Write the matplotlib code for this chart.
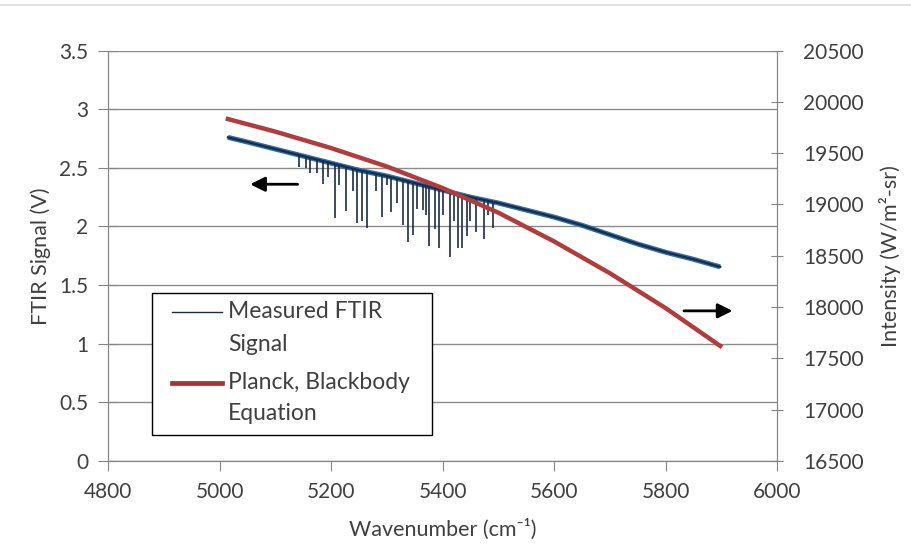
import numpy as np
import matplotlib
matplotlib.use("Agg")
import matplotlib.pyplot as plt
from matplotlib.lines import Line2D
from matplotlib.patches import Rectangle

plt.rcParams['font.family'] = ['Lato', 'DejaVu Sans']

# ===== FTIR signal (left axis) =====
# baseline read every ~50 cm-1
sig_wn = [5015, 5050, 5100, 5150, 5200, 5250, 5300, 5350, 5400, 5450,
          5500, 5550, 5600, 5650, 5700, 5750, 5800, 5850, 5898]
sig_v = [2.76, 2.72, 2.66, 2.60, 2.54, 2.48, 2.43, 2.37, 2.31, 2.25,
         2.20, 2.14, 2.08, 2.01, 1.93, 1.85, 1.78, 1.72, 1.655]

# absorption dips (position, bottom value)
dip_wn = [5143, 5155, 5162, 5175, 5186, 5195, 5207, 5215, 5227, 5240,
          5247, 5256, 5265, 5280, 5291, 5300, 5308, 5318, 5329, 5338,
          5347, 5355, 5365, 5370, 5376, 5387, 5394, 5400, 5413, 5420,
          5428, 5435, 5444, 5450, 5460, 5474, 5482, 5491]
dip_v = [2.51, 2.50, 2.46, 2.46, 2.36, 2.42, 2.07, 2.35, 2.13, 2.30,
         2.03, 2.05, 1.99, 2.30, 2.08, 2.35, 2.12, 2.20, 2.01, 1.87,
         1.93, 2.15, 2.14, 2.10, 1.83, 1.98, 1.82, 2.10, 1.74, 2.05,
         1.82, 1.82, 1.92, 2.05, 1.95, 1.89, 2.10, 1.99]

# ===== Planck curve (right axis) =====
planck_wn = [5015, 5100, 5200, 5300, 5400, 5500, 5600, 5700, 5800, 5898]
planck_i = [19833, 19710, 19550, 19370, 19160, 18920, 18640, 18330, 17990, 17621]

legend_labels = [['Measured FTIR', 'Signal'], ['Planck, Blackbody', 'Equation']]

TXT = '#404040'
SPINE = '#868686'
FS = 15
BLUE_DARK = '#1a2c48'
RED = '#b03c3c'

fig = plt.figure(figsize=(9.11, 5.56), dpi=100)
# thin light line along the top edge of the picture
fig.add_artist(Line2D([0, 1], [0.991, 0.991], transform=fig.transFigure,
                      color='#dcdcdc', lw=1.2))
ax1 = fig.add_axes([0.1186, 0.171, 0.7344, 0.738])
ax2 = ax1.twinx()

# measured signal
ax1.plot(sig_wn, sig_v, color='#2e6da8', lw=3.6, solid_capstyle='butt', zorder=3)
ax1.plot(sig_wn, sig_v, color=BLUE_DARK, lw=1.6, zorder=4)
dip_top = np.interp(dip_wn, sig_wn, sig_v)
ax1.vlines(dip_wn, dip_v, dip_top, color=BLUE_DARK, lw=1.2, zorder=4)

# planck
ax2.plot(planck_wn, planck_i, color=RED, lw=3.2, zorder=5)

ax1.set_xlim(4800, 6000)
ax1.set_ylim(0, 3.5)
ax2.set_ylim(16500, 20500)
ax1.set_xticks(np.arange(4800, 6001, 200))
ax1.set_yticks(np.arange(0, 3.51, 0.5))
ax1.set_yticklabels(['0', '0.5', '1', '1.5', '2', '2.5', '3', '3.5'])
ax2.set_yticks(np.arange(16500, 20501, 500))

ax1.yaxis.grid(True, color='#8c8c8c', lw=1.0)
ax1.set_axisbelow(True)

for ax in (ax1, ax2):
    ax.spines['top'].set_visible(False)
    for s in ('left', 'right', 'bottom'):
        ax.spines[s].set_color(SPINE)
ax1.tick_params(axis='y', direction='inout', length=14, color=SPINE,
                labelsize=FS, labelcolor=TXT, pad=7)
ax2.tick_params(axis='y', direction='inout', length=9, color=SPINE,
                labelsize=FS, labelcolor=TXT, pad=14)
ax1.tick_params(axis='x', direction='out', length=7, color=SPINE,
                labelsize=FS, labelcolor=TXT, pad=8)

ax1.set_xlabel('Wavenumber (cm\u207b\u00b9)', fontsize=15.5, color=TXT, labelpad=12)
ax1.set_ylabel('FTIR Signal (V)', fontsize=15.5, color=TXT, labelpad=6)
ax2.set_ylabel('Intensity (W/m\u00b2-sr)', fontsize=15.5, color=TXT, labelpad=11)

# direction arrows
ax1.annotate('', xy=(5050, 2.36), xytext=(5145, 2.36),
             arrowprops=dict(arrowstyle='-|>', color='black', lw=2.0,
                             mutation_scale=22))
ax1.annotate('', xy=(5925, 1.28), xytext=(5828, 1.28),
             arrowprops=dict(arrowstyle='-|>', color='black', lw=2.0,
                             mutation_scale=22))

# legend box, drawn by hand so the handles sit on the first text line
tr = ax1.transAxes
ax1.add_patch(Rectangle((0.066, 0.063), 0.418, 0.346, transform=tr,
                        facecolor='white', edgecolor='black', lw=1.0, zorder=10))
ax1.add_line(Line2D([0.096, 0.170], [0.363, 0.363], transform=tr,
                    color=BLUE_DARK, lw=1.0, zorder=11))
ax1.add_line(Line2D([0.096, 0.170], [0.190, 0.190], transform=tr,
                    color='#a83232', lw=3.4, zorder=11))
line_y = [[0.363, 0.283], [0.190, 0.115]]
for lab, ys in zip(legend_labels, line_y):
    for txt, y in zip(lab, ys):
        ax1.text(0.179, y, txt, transform=tr, fontsize=16.5, color=TXT,
                 va='center', ha='left', zorder=12)

plt.savefig('out.png', dpi=100)
